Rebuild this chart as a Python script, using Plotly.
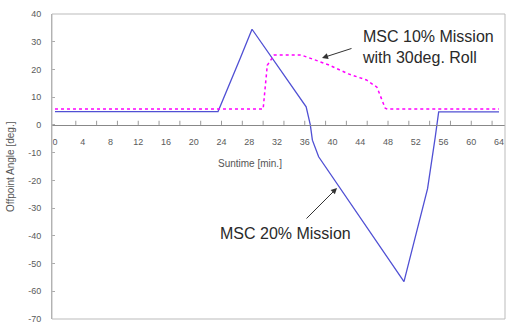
import plotly.graph_objects as go

# Data (suntime in minutes, offpoint angle in degrees)
msc20_x = [0, 23.5, 26.7, 28.4, 36.2, 36.8, 37.1, 38.0, 50.3, 53.7, 54.8, 55.3, 64]
msc20_y = [4.8, 4.8, 24.0, 34.5, 6.5, 0.0, -5.5, -11.5, -56.5, -23.0, -4.5, 4.7, 4.7]

msc10_x = [0, 30.0, 30.6, 31.6, 35.5, 39.4, 42.3, 44.9, 46.4, 47.6, 47.9, 64]
msc10_y = [5.7, 5.7, 21.5, 25.2, 25.2, 21.7, 18.4, 16.2, 13.6, 6.0, 5.7, 5.7]

y_ticks = [40, 30, 20, 10, 0, -10, -20, -30, -40, -50, -60, -70]
x_minor_ticks = list(range(3, 64, 3))

label_10 = "MSC 10% Mission<br>with 30deg. Roll"
label_20 = "MSC 20% Mission"
x_title = "Suntime [min.]"
y_title = "Offpoint Angle [deg.]"

fig = go.Figure()
fig.add_trace(go.Scatter(x=msc20_x, y=msc20_y, mode="lines",
                         line=dict(color="#5050d4", width=1.3), showlegend=False))
fig.add_trace(go.Scatter(x=msc10_x, y=msc10_y, mode="lines",
                         line=dict(color="#ff00ff", width=1.5, dash="3px,3px"), showlegend=False))

W, H = 507, 327
L, R, T, B = 52, 2, 14, 8
pw, ph = W - L - R, H - T - B
y_zero_frac = (0 - (-70)) / 110.0

tickfont = dict(family="Liberation Sans, Arial", size=9, color="#5a5a5a")

shapes = [dict(type="rect", xref="paper", yref="paper", x0=0, x1=1, y0=0, y1=1,
               line=dict(color="#bbbbbb", width=1))]
for t in x_minor_ticks:
    shapes.append(dict(type="line", xref="x", yref="y", x0=t, x1=t, y0=0, y1=1.5,
                       line=dict(color="#999999", width=1)))

fig.update_layout(
    width=W, height=H,
    margin=dict(l=L, r=R, t=T, b=B),
    paper_bgcolor="white", plot_bgcolor="white",
    xaxis=dict(range=[-0.43, 64.86], anchor="free", position=y_zero_frac,
               showline=True, linecolor="#888888", linewidth=1,
               showgrid=False, zeroline=False,
               tickmode="linear", tick0=0, dtick=4, ticks="",
               tickfont=tickfont, ticklabelstandoff=8),
    yaxis=dict(range=[-70, 40], showline=True, linecolor="#aaaaaa", linewidth=1,
               showgrid=False, zeroline=False,
               tickvals=y_ticks, ticktext=[str(v) for v in y_ticks],
               ticks="inside", ticklen=3, tickcolor="#aaaaaa",
               tickfont=tickfont, ticklabelstandoff=8),
    shapes=shapes,
)

def px_x(px):
    return (px - L) / pw

def px_y(py):
    return (H - B - py) / ph

annfont = dict(family="Liberation Sans, Arial", size=16, color="#2a2a2a")
fig.add_annotation(xref="paper", yref="paper", x=px_x(360), y=px_y(46.5),
                   text=label_10, showarrow=False, xanchor="left", yanchor="middle",
                   align="left", font=annfont)
fig.add_annotation(xref="paper", yref="paper", x=px_x(218), y=px_y(233),
                   text=label_20, showarrow=False, xanchor="left", yanchor="middle",
                   align="left", font=annfont)
# arrows
fig.add_annotation(xref="paper", yref="paper", x=px_x(322), y=px_y(58), text="",
                   showarrow=True, ax=31, ay=-10, arrowhead=2, arrowsize=1.2,
                   arrowwidth=1, arrowcolor="#333333")
fig.add_annotation(xref="paper", yref="paper", x=px_x(337), y=px_y(188), text="",
                   showarrow=True, ax=-32, ay=32, arrowhead=2, arrowsize=1.2,
                   arrowwidth=1, arrowcolor="#333333")
# axis titles
titlefont = dict(family="Liberation Sans, Arial", size=10, color="#555555")
fig.add_annotation(xref="paper", yref="paper", x=px_x(250), y=px_y(163), text=x_title,
                   showarrow=False, xanchor="center", yanchor="middle", font=titlefont)
fig.add_annotation(xref="paper", yref="paper", x=px_x(10), y=px_y(167), text=y_title,
                   showarrow=False, xanchor="center", yanchor="middle", textangle=-90,
                   font=titlefont)

fig.write_html("out.html")
